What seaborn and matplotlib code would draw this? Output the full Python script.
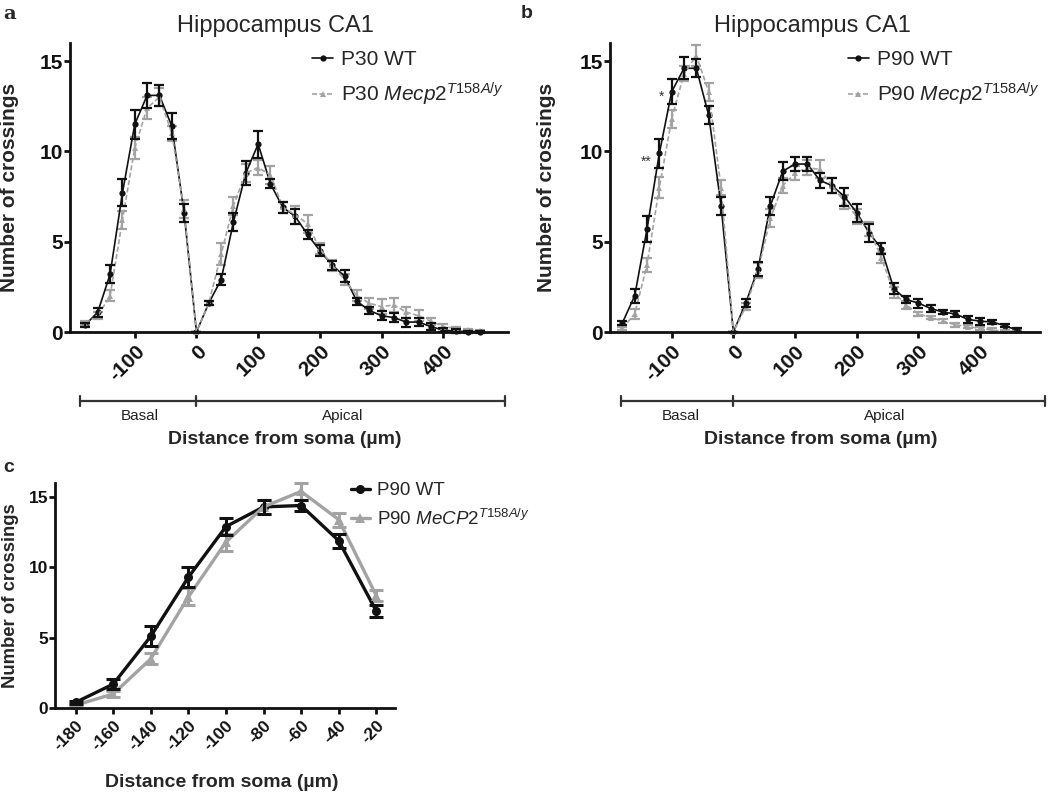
import numpy as np
import pandas as pd
import matplotlib
matplotlib.use("Agg")
import matplotlib.pyplot as plt
import matplotlib.transforms as mtransforms
from matplotlib.lines import Line2D
import seaborn as sns

# ---------------- data ----------------
dist = list(range(-180, 461, 20))  # 33 radii (µm)

a_wt = [0.4, 1.1, 3.2, 7.7, 11.5, 13.1, 13.1, 11.4, 6.6, 0.0,
        1.6, 2.9, 6.1, 8.8, 10.4, 8.2, 6.9, 6.4, 5.4, 4.5, 3.7, 3.1, 1.7, 1.2,
        0.9, 0.8, 0.55, 0.55, 0.3, 0.1, 0.05, 0.02, 0.0]
a_wt_sem = [0.1, 0.25, 0.5, 0.75, 0.8, 0.7, 0.6, 0.7, 0.5, 0.0,
            0.1, 0.3, 0.5, 0.65, 0.75, 0.25, 0.3, 0.4, 0.25, 0.3, 0.25, 0.35, 0.2, 0.2,
            0.25, 0.25, 0.25, 0.2, 0.2, 0.1, 0.1, 0.05, 0.05]
a_mut = [0.5, 0.9, 2.0, 6.2, 10.2, 12.4, 13.0, 11.0, 6.8, 0.0,
         1.6, 4.3, 7.0, 8.8, 9.1, 8.7, 6.9, 6.5, 6.0, 4.6, 3.7, 2.9, 2.0, 1.6,
         1.4, 1.5, 1.1, 0.9, 0.6, 0.3, 0.2, 0.1, 0.05]
a_mut_sem = [0.1, 0.2, 0.3, 0.5, 0.6, 0.6, 0.5, 0.4, 0.5, 0.0,
             0.1, 0.6, 0.5, 0.5, 0.4, 0.5, 0.3, 0.5, 0.5, 0.3, 0.3, 0.3, 0.3, 0.3,
             0.4, 0.4, 0.3, 0.3, 0.2, 0.15, 0.1, 0.05, 0.05]

b_wt = [0.5, 2.0, 5.7, 9.9, 13.3, 14.6, 14.6, 12.0, 7.0, 0.0,
        1.6, 3.5, 7.0, 8.9, 9.3, 9.3, 8.4, 8.1, 7.5, 6.6, 5.5, 4.6, 2.4, 1.8,
        1.6, 1.3, 1.1, 1.0, 0.7, 0.6, 0.55, 0.35, 0.1]
b_wt_sem = [0.1, 0.4, 0.7, 0.8, 0.7, 0.6, 0.5, 0.5, 0.5, 0.0,
            0.2, 0.4, 0.5, 0.5, 0.4, 0.4, 0.4, 0.4, 0.5, 0.5, 0.5, 0.3, 0.3, 0.2,
            0.25, 0.2, 0.1, 0.15, 0.2, 0.2, 0.1, 0.1, 0.1]
b_mut = [0.2, 1.0, 3.7, 8.0, 11.8, 14.3, 15.3, 13.3, 8.0, 0.0,
         1.4, 3.4, 6.3, 8.1, 8.8, 9.1, 9.0, 8.1, 7.2, 6.4, 5.7, 4.1, 2.2, 1.5,
         1.0, 0.8, 0.6, 0.4, 0.3, 0.2, 0.1, 0.05, 0.05]
b_mut_sem = [0.1, 0.3, 0.4, 0.6, 0.5, 0.4, 0.6, 0.5, 0.4, 0.0,
             0.2, 0.4, 0.5, 0.4, 0.4, 0.4, 0.5, 0.4, 0.4, 0.4, 0.4, 0.3, 0.3, 0.2,
             0.1, 0.1, 0.1, 0.1, 0.1, 0.1, 0.1, 0.05, 0.05]

c_dist = [-180, -160, -140, -120, -100, -80, -60, -40, -20]
c_wt = [0.4, 1.7, 5.1, 9.3, 12.9, 14.3, 14.4, 11.9, 6.9]
c_wt_sem = [0.1, 0.35, 0.7, 0.7, 0.6, 0.5, 0.4, 0.5, 0.4]
c_mut = [0.2, 1.0, 3.5, 7.9, 11.8, 14.3, 15.4, 13.4, 8.0]
c_mut_sem = [0.1, 0.2, 0.4, 0.6, 0.6, 0.5, 0.6, 0.5, 0.4]

a_labels = ["P30 WT", r"P30 $\mathit{Mecp2}^{\mathit{T158A/y}}$"]
b_labels = ["P90 WT", r"P90 $\mathit{Mecp2}^{\mathit{T158A/y}}$"]
c_labels = ["P90 WT", r"P90 $\mathit{MeCP2}^{\mathit{T158A/y}}$"]
ab_xticks = [-100, 0, 100, 200, 300, 400]
c_xticks = c_dist
yticks = [0, 5, 10, 15]

# ---------------- style ----------------
sns.set_theme(style="ticks")
plt.rcParams["font.family"] = ["Liberation Sans", "DejaVu Sans"]
plt.rcParams["mathtext.fontset"] = "custom"
plt.rcParams["mathtext.rm"] = "Liberation Sans"
plt.rcParams["mathtext.it"] = "Liberation Sans:italic"
plt.rcParams["mathtext.bf"] = "Liberation Sans:bold"

BLACK = "#111111"
GRAY = "#a3a3a3"

W, H = 1050, 793
fig = plt.figure(figsize=(W / 100, H / 100), dpi=100)


def px_axes(left, top, right, bottom):
    return fig.add_axes([left / W, 1 - bottom / H, (right - left) / W, (bottom - top) / H])


def style_axes(ax, xticks, xlim, tick_fs):
    ax.set_xlim(*xlim)
    ax.set_ylim(0, 16)
    ax.set_yticks(yticks)
    ax.set_xticks(xticks)
    ax.set_xticklabels([str(t) for t in xticks], rotation=45, ha="right",
                       rotation_mode="anchor", fontweight="bold", fontsize=tick_fs)
    ax.set_yticklabels([str(t) for t in yticks], fontweight="bold", fontsize=tick_fs)
    for s in ["top", "right"]:
        ax.spines[s].set_visible(False)
    for s in ["left", "bottom"]:
        ax.spines[s].set_linewidth(2.0)
        ax.spines[s].set_color(BLACK)
    ax.tick_params(axis="both", direction="out", length=4, width=2.0, color=BLACK,
                   labelcolor=BLACK)
    ax.tick_params(axis="y", pad=1)
    ax.tick_params(axis="x", pad=3)
    ax.set_xlabel("")
    ax.set_ylabel("")


def draw_panel(ax, x, wt, wt_sem, mut, mut_sem, lw, ms, cap, dashed):
    df = pd.DataFrame({
        "dist": list(x) * 2,
        "val": list(wt) + list(mut),
        "group": ["WT"] * len(x) + ["MUT"] * len(x),
    })
    sns.lineplot(data=df, x="dist", y="val", hue="group", style="group",
                 hue_order=["WT", "MUT"], style_order=["WT", "MUT"],
                 palette={"WT": BLACK, "MUT": GRAY},
                 markers={"WT": "o", "MUT": "^"},
                 dashes={"WT": "", "MUT": (3, 1.5) if dashed else ""},
                 markersize=ms, markeredgewidth=0, linewidth=lw,
                 errorbar=None, legend=False, ax=ax, sort=False)
    ax.errorbar(x, mut, yerr=mut_sem, fmt="none", ecolor=GRAY, elinewidth=cap[1],
                capsize=cap[0], capthick=cap[1], clip_on=False, zorder=1.5)
    ax.errorbar(x, wt, yerr=wt_sem, fmt="none", ecolor=BLACK, elinewidth=cap[1],
                capsize=cap[0], capthick=cap[1], clip_on=False, zorder=2.5)
    for ln in ax.lines:
        ln.set_clip_on(False)


def legend(ax, labels, anchor, fs, lw, ms, dashed, spacing):
    h = [Line2D([], [], color=BLACK, lw=lw, marker="o", ms=ms, mew=0),
         Line2D([], [], color=GRAY, lw=lw, marker="^", ms=ms, mew=0,
                ls=(0, (3, 1.5)) if dashed else "-")]
    ax.legend(h, labels, loc="upper left", bbox_to_anchor=anchor, frameon=False,
              fontsize=fs, handlelength=1.0, handletextpad=0.4, borderpad=0,
              borderaxespad=0, labelspacing=spacing)


def bracket(ax, left, mid, right, yfrac, lab_y, basal_x, apical_x):
    tr = mtransforms.blended_transform_factory(ax.transData, ax.transAxes)
    ax.plot([left, right], [yfrac, yfrac], color="#333333", lw=1.6,
            transform=tr, clip_on=False)
    for xx in (left, mid, right):
        ax.plot([xx, xx], [yfrac - 0.018, yfrac + 0.018], color="#333333", lw=1.6,
                transform=tr, clip_on=False)
    ax.text(basal_x, lab_y, "Basal", transform=tr, ha="center", va="center",
            fontsize=11, color="#222222")
    ax.text(apical_x, lab_y, "Apical", transform=tr, ha="center", va="center",
            fontsize=11, color="#222222")


# ---------------- panel a ----------------
ax_a = px_axes(70, 43, 508, 332)
draw_panel(ax_a, dist, a_wt, a_wt_sem, a_mut, a_mut_sem, lw=1.2, ms=4.5,
           cap=(3.5, 1.6), dashed=True)
style_axes(ax_a, ab_xticks, (-205, 505), 15)
ax_a.set_ylabel("Number of crossings", fontsize=15, fontweight="bold", labelpad=15)
ax_a.set_title("Hippocampus CA1", fontsize=17, pad=8, x=0.47)
legend(ax_a, a_labels, (0.553, 0.976), 15, 1.2, 4.5, True, 0.55)
bracket(ax_a, -188, 0, 500, -0.238, -0.292, -92, 237)
ax_a.text(0.49, -0.372, "Distance from soma (µm)", transform=ax_a.transAxes,
          ha="center", va="center", fontsize=14, fontweight="bold")

# ---------------- panel b ----------------
ax_b = px_axes(610, 43, 1040, 332)
draw_panel(ax_b, dist, b_wt, b_wt_sem, b_mut, b_mut_sem, lw=1.2, ms=4.5,
           cap=(3.5, 1.6), dashed=True)
style_axes(ax_b, ab_xticks, (-200, 497), 15)
ax_b.set_ylabel("Number of crossings", fontsize=15, fontweight="bold", labelpad=17)
ax_b.set_title("Hippocampus CA1", fontsize=17, pad=8, x=0.47)
legend(ax_b, b_labels, (0.553, 0.976), 15, 1.2, 4.5, True, 0.55)
bracket(ax_b, -182, 0, 505, -0.238, -0.292, -85, 245)
ax_b.text(0.49, -0.372, "Distance from soma (µm)", transform=ax_b.transAxes,
          ha="center", va="center", fontsize=14, fontweight="bold")
ax_b.text(-117, 13.0, "*", ha="center", va="center", fontsize=10, color="#333333")
ax_b.text(-142, 9.4, "**", ha="center", va="center", fontsize=10, color="#333333")

# ---------------- panel c ----------------
ax_c = px_axes(55, 483, 395, 708)
draw_panel(ax_c, c_dist, c_wt, c_wt_sem, c_mut, c_mut_sem, lw=2.4, ms=6.5,
           cap=(5, 2.2), dashed=False)
style_axes(ax_c, c_xticks, (-191, -10), 12.5)
ax_c.set_ylabel("Number of crossings", fontsize=13.3, fontweight="bold", labelpad=7)
legend(ax_c, c_labels, (0.87, 1.004), 13.5, 2.4, 6.5, False, 0.5)
ax_c.text(0.49, -0.33, "Distance from soma (µm)", transform=ax_c.transAxes,
          ha="center", va="center", fontsize=14, fontweight="bold")

# ---------------- panel letters ----------------
fig.text(3 / W, 1 - 14 / H, "a", fontsize=14, fontweight="bold", va="center",
         family=["DejaVu Serif"])
fig.text(521 / W, 1 - 14 / H, "b", fontsize=14, fontweight="bold", va="center")
fig.text(3 / W, 1 - 468 / H, "c", fontsize=14, fontweight="bold", va="center")

fig.savefig("out.png", dpi=100)
